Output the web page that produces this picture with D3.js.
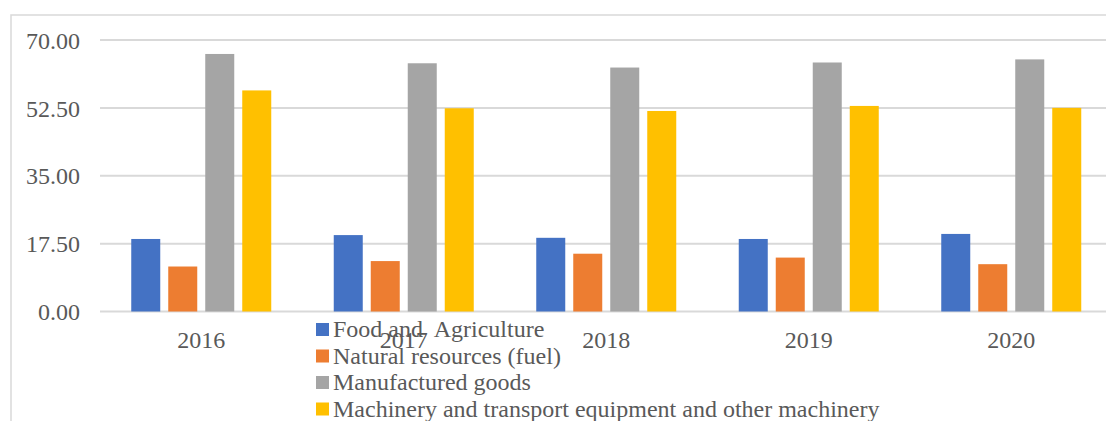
<!DOCTYPE html>
<html>
<head>
<meta charset="utf-8">
<script src="https://cdn.jsdelivr.net/npm/d3@7"></script>
<style>
  html, body { margin: 0; padding: 0; background: #fff; }
  svg { display: block; }
  text { font-family: "Liberation Serif", "Times New Roman", serif; fill: #595959; }
</style>
</head>
<body>
<svg id="chart" width="1106" height="421"></svg>
<script>
const years = ["2016", "2017", "2018", "2019", "2020"];
const seriesNames = [
  "Food and  Agriculture",
  "Natural resources (fuel)",
  "Manufactured goods",
  "Machinery and transport equipment and other machinery"
];
const seriesColors = ["#4472C4", "#ED7D31", "#A5A5A5", "#FFC000"];
const foodAgriculture   = [18.7, 19.7, 19.0, 18.7, 20.0];
const naturalResources  = [11.6, 13.0, 14.9, 13.9, 12.2];
const manufactured      = [66.4, 64.0, 62.9, 64.2, 65.0];
const machinery         = [57.0, 52.4, 51.7, 53.0, 52.5];
const yTicks = [0, 17.5, 35, 52.5, 70];

const seriesValues = [foodAgriculture, naturalResources, manufactured, machinery];

const svg = d3.select("#chart");

// chart border
svg.append("rect")
  .attr("x", 11).attr("y", 15)
  .attr("width", 1106).attr("height", 430)
  .attr("fill", "none").attr("stroke", "#d9d9d9").attr("stroke-width", 1.5);

const x0 = d3.scaleBand().domain(years).range([100, 1112.5]).paddingInner(0).paddingOuter(0);
const groupW = 140;
const x1 = d3.scaleBand().domain(d3.range(seriesNames.length)).range([0, groupW]).paddingInner(8 / 37).paddingOuter(0);
const y = d3.scaleLinear().domain([0, 70]).range([311.5, 40]);

// gridlines
svg.append("g").selectAll("line").data(yTicks).join("line")
  .attr("x1", 100).attr("x2", 1106)
  .attr("y1", d => y(d)).attr("y2", d => y(d))
  .attr("stroke", "#d9d9d9").attr("stroke-width", 2);

// y tick labels
svg.append("g").selectAll("text").data(yTicks).join("text")
  .attr("x", 80).attr("y", d => y(d))
  .attr("dy", "0.36em")
  .attr("text-anchor", "end")
  .attr("font-size", 24)
  .text(d => d3.format(".2f")(d));

// bars
const groupOffset = (x0.bandwidth() - groupW) / 2;
const groups = svg.append("g").selectAll("g").data(years).join("g")
  .attr("transform", d => `translate(${x0(d) + groupOffset},0)`);
groups.selectAll("rect")
  .data((d, i) => seriesValues.map((s, k) => ({ k, v: s[i] })))
  .join("rect")
  .attr("x", d => x1(d.k))
  .attr("width", x1.bandwidth())
  .attr("y", d => y(d.v))
  .attr("height", d => y(0) - y(d.v))
  .attr("fill", d => seriesColors[d.k]);

// category labels
svg.append("g").selectAll("text").data(years).join("text")
  .attr("x", d => x0(d) + x0.bandwidth() / 2)
  .attr("y", 348)
  .attr("text-anchor", "middle")
  .attr("font-size", 24)
  .text(d => d);

// legend
const legend = svg.append("g").attr("transform", "translate(316,330)");
const items = legend.selectAll("g").data(seriesNames).join("g")
  .attr("transform", (d, i) => `translate(0,${i * 26.5})`);
items.append("rect")
  .attr("x", 0).attr("y", -7).attr("width", 13).attr("height", 13)
  .attr("fill", (d, i) => seriesColors[i]);
items.append("text")
  .attr("x", 17).attr("y", 0).attr("dy", "0.3em")
  .attr("font-size", 24)
  .attr("xml:space", "preserve")
  .style("white-space", "pre")
  .text(d => d);
</script>
</body>
</html>
